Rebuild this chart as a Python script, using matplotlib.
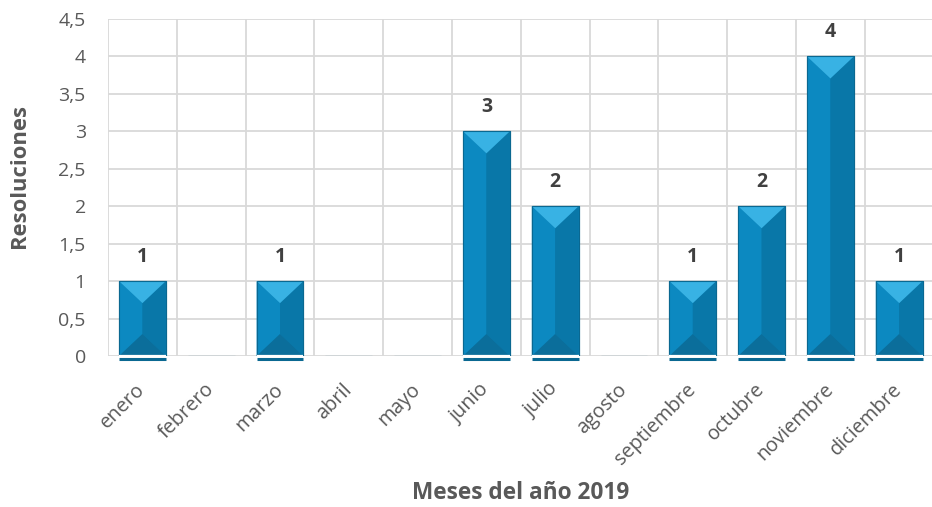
import numpy as np
import matplotlib.pyplot as plt
from matplotlib.ticker import FuncFormatter, MultipleLocator

# data
meses = ['enero', 'febrero', 'marzo', 'abril', 'mayo', 'junio', 'julio',
         'agosto', 'septiembre', 'octubre', 'noviembre', 'diciembre']
resoluciones = [1, 0, 1, 0, 0, 3, 2, 0, 1, 2, 4, 1]

plt.rcParams['font.family'] = ['Open Sans', 'DejaVu Sans']

fig = plt.figure(figsize=(9.32, 5.07), dpi=100)
ax = fig.add_axes([0.1159, 0.2978, 0.8858, 0.6647])

x = np.arange(len(meses))
width = 0.68
bars = ax.bar(x, resoluciones, width=width, color='#0A80B5',
              edgecolor='#0A6891', linewidth=0.8, zorder=3)

# bevel faces (depth in data units ~22 px)
d = 22 / 337 * 4.5
for b, h in zip(bars, resoluciones):
    if h == 0:
        continue
    x0 = b.get_x()
    x1 = x0 + b.get_width()
    xc = (x0 + x1) / 2
    ax.fill([x0, xc, xc, x0], [h, h - d, d, 0], color='#0C89C1', zorder=4, lw=0)
    ax.fill([x1, xc, xc, x1], [h, h - d, d, 0], color='#0977A8', zorder=4, lw=0)
    ax.fill([x0, x1, xc], [h, h, h - d], color='#38B2E4', zorder=5, lw=0)
    ax.fill([x0, x1, xc], [0, 0, d], color='#0B6E9B', zorder=5, lw=0)
    ax.fill([x0, x1, x1, x0], [0, 0, h, h], fill=False, edgecolor='#0A6891',
            lw=0.8, zorder=6)
    # reflection strip at baseline
    ax.plot([x0, x1], [0, 0], color='white', lw=1.6, zorder=7,
            solid_capstyle='butt')
    ax.plot([x0, x1], [-0.035, -0.035], color='#0A6891', lw=2.2, zorder=7,
            solid_capstyle='butt', clip_on=False)
    ax.text(xc, h + 0.19, str(h), ha='center', va='bottom', fontsize=14,
            fontweight='bold', color='#404040', zorder=8)

ax.set_xlim(-0.5, len(meses) - 0.5)
ax.set_ylim(0, 4.5)
ax.yaxis.set_major_locator(MultipleLocator(0.5))
ax.yaxis.set_major_formatter(FuncFormatter(
    lambda v, p: ('%g' % v).replace('.', ',')))

# grid
for v in np.arange(0, 4.51, 0.5):
    ax.axhline(v, color='#D9D9D9', lw=1.3, zorder=1)
for v in np.arange(-0.5, len(meses), 1):
    ax.axvline(v, color='#D9D9D9', lw=1.3, zorder=1)

for s in ax.spines.values():
    s.set_visible(False)

ax.set_xticks(x)
ax.set_xticklabels(meses, rotation=45, ha='right', va='center',
                   rotation_mode='anchor', fontsize=14.3, color='#595959')
ax.tick_params(axis='x', length=0, pad=22)
ax.tick_params(axis='y', length=0, pad=16, labelsize=14, labelcolor='#595959')

ax.set_ylabel('Resoluciones', fontsize=15.8, fontweight='bold',
              color='#595959')
ax.yaxis.set_label_coords(-0.095, 0.534)
ax.set_xlabel('Meses del año 2019', fontsize=16.3, fontweight='bold',
              color='#595959', labelpad=9)

fig.savefig('out.png', dpi=100)
